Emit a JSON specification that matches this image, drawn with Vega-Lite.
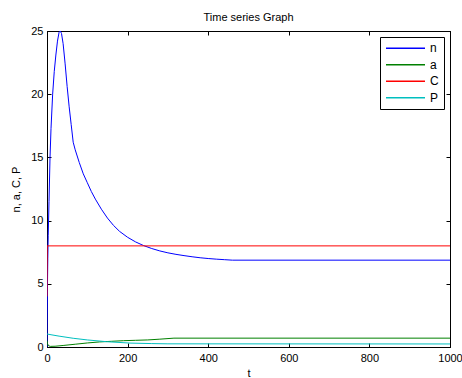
{
  "$schema": "https://vega.github.io/schema/vega-lite/v6.json",
  "autosize": {"type": "none"},
  "width": 403,
  "height": 316,
  "padding": {"left": 47, "top": 31, "right": 12, "bottom": 31},
  "background": "white",
  "config": {
    "font": "Liberation Sans",
    "view": {"stroke": "black", "strokeWidth": 1},
    "axis": {"domainColor": "black", "tickColor": "black", "labelColor": "black", "titleColor": "black", "labelFont": "Liberation Sans", "titleFont": "Liberation Sans", "labelFontSize": 11, "titleFontSize": 11, "titleFontWeight": "normal", "grid": false, "tickSize": -4}
  },
  "title": {"text": "Time series Graph", "fontSize": 11, "fontWeight": "normal", "font": "Liberation Sans", "color": "black", "offset": 2},
  "data": {"values": [
    {"series": "n", "t": 0, "value": 0},
    {"series": "n", "t": 1, "value": 4.5},
    {"series": "n", "t": 2, "value": 7},
    {"series": "n", "t": 3, "value": 8.8},
    {"series": "n", "t": 5, "value": 11.5},
    {"series": "n", "t": 7.5, "value": 15},
    {"series": "n", "t": 10, "value": 17.3},
    {"series": "n", "t": 14, "value": 20},
    {"series": "n", "t": 18, "value": 21.8},
    {"series": "n", "t": 22, "value": 23.1},
    {"series": "n", "t": 26, "value": 24.2},
    {"series": "n", "t": 30, "value": 24.9},
    {"series": "n", "t": 33, "value": 25},
    {"series": "n", "t": 36, "value": 24.8},
    {"series": "n", "t": 40, "value": 24.0},
    {"series": "n", "t": 45, "value": 22.4},
    {"series": "n", "t": 50, "value": 20.6},
    {"series": "n", "t": 55, "value": 19.0},
    {"series": "n", "t": 60, "value": 17.6},
    {"series": "n", "t": 65, "value": 16.2},
    {"series": "n", "t": 70, "value": 15.6},
    {"series": "n", "t": 80, "value": 14.6},
    {"series": "n", "t": 90, "value": 13.7},
    {"series": "n", "t": 100, "value": 13.0},
    {"series": "n", "t": 110, "value": 12.3},
    {"series": "n", "t": 120, "value": 11.7},
    {"series": "n", "t": 135, "value": 10.9},
    {"series": "n", "t": 150, "value": 10.2},
    {"series": "n", "t": 165, "value": 9.62},
    {"series": "n", "t": 180, "value": 9.15},
    {"series": "n", "t": 200, "value": 8.68},
    {"series": "n", "t": 220, "value": 8.31},
    {"series": "n", "t": 240, "value": 8.02},
    {"series": "n", "t": 260, "value": 7.79},
    {"series": "n", "t": 280, "value": 7.6},
    {"series": "n", "t": 300, "value": 7.45},
    {"series": "n", "t": 320, "value": 7.33},
    {"series": "n", "t": 340, "value": 7.23},
    {"series": "n", "t": 360, "value": 7.14},
    {"series": "n", "t": 380, "value": 7.06},
    {"series": "n", "t": 400, "value": 7.0},
    {"series": "n", "t": 420, "value": 6.95},
    {"series": "n", "t": 440, "value": 6.91},
    {"series": "n", "t": 460, "value": 6.87},
    {"series": "n", "t": 1000, "value": 6.87},
    {"series": "a", "t": 0, "value": 0.5},
    {"series": "a", "t": 1, "value": 0.3},
    {"series": "a", "t": 3, "value": 0.12},
    {"series": "a", "t": 8, "value": 0.05},
    {"series": "a", "t": 20, "value": 0.06},
    {"series": "a", "t": 40, "value": 0.12},
    {"series": "a", "t": 70, "value": 0.22},
    {"series": "a", "t": 100, "value": 0.32},
    {"series": "a", "t": 130, "value": 0.4},
    {"series": "a", "t": 160, "value": 0.45},
    {"series": "a", "t": 190, "value": 0.5},
    {"series": "a", "t": 220, "value": 0.53},
    {"series": "a", "t": 250, "value": 0.56},
    {"series": "a", "t": 280, "value": 0.62},
    {"series": "a", "t": 315, "value": 0.7},
    {"series": "a", "t": 1000, "value": 0.7},
    {"series": "C", "t": 0, "value": 4},
    {"series": "C", "t": 0.5, "value": 8},
    {"series": "C", "t": 1000, "value": 8},
    {"series": "P", "t": 0, "value": 1.03},
    {"series": "P", "t": 10, "value": 0.97},
    {"series": "P", "t": 30, "value": 0.86},
    {"series": "P", "t": 65, "value": 0.69},
    {"series": "P", "t": 100, "value": 0.56},
    {"series": "P", "t": 148, "value": 0.42},
    {"series": "P", "t": 206, "value": 0.31},
    {"series": "P", "t": 260, "value": 0.27},
    {"series": "P", "t": 300, "value": 0.25},
    {"series": "P", "t": 1000, "value": 0.24}
  ]},
  "layer": [
    {
      "mark": {"type": "line", "strokeWidth": 1, "clip": true},
      "encoding": {
        "x": {"field": "t", "type": "quantitative", "scale": {"domain": [0, 1000], "nice": false}, "axis": {"values": [0, 200, 400, 600, 800, 1000], "format": "d", "title": "t", "labelPadding": 9, "titlePadding": 4, "labelFlush": false}},
        "y": {"field": "value", "type": "quantitative", "scale": {"domain": [0, 25], "nice": false}, "axis": {"values": [0, 5, 10, 15, 20, 25], "title": "n, a, C, P", "labelPadding": 8, "titlePadding": 9, "labelFlush": false}},
        "color": {"field": "series", "type": "nominal", "scale": {"domain": ["n", "a", "C", "P"], "range": ["#0000ff", "#008000", "#ff0000", "#00bfbf"]},
          "legend": {"title": null, "orient": "top-right", "offset": 6, "symbolType": "stroke", "symbolSize": 1521, "symbolStrokeWidth": 1.5, "clipHeight": 12.5, "labelFontSize": 12, "labelFont": "Liberation Sans", "labelColor": "black", "strokeColor": "black", "fillColor": "white", "padding": 5, "rowPadding": 3.5, "labelOffset": 4}},
        "order": {"field": "t", "type": "quantitative"}
      }
    },
    {
      "mark": {"type": "line", "opacity": 0},
      "encoding": {
        "x": {"field": "t", "type": "quantitative", "axis": {"orient": "top", "values": [0, 200, 400, 600, 800, 1000], "labels": false, "title": null}},
        "y": {"field": "value", "type": "quantitative", "axis": {"orient": "right", "values": [0, 5, 10, 15, 20, 25], "labels": false, "title": null}},
        "detail": {"field": "series", "type": "nominal"}
      }
    }
  ],
  "resolve": {"axis": {"x": "independent", "y": "independent"}}
}
